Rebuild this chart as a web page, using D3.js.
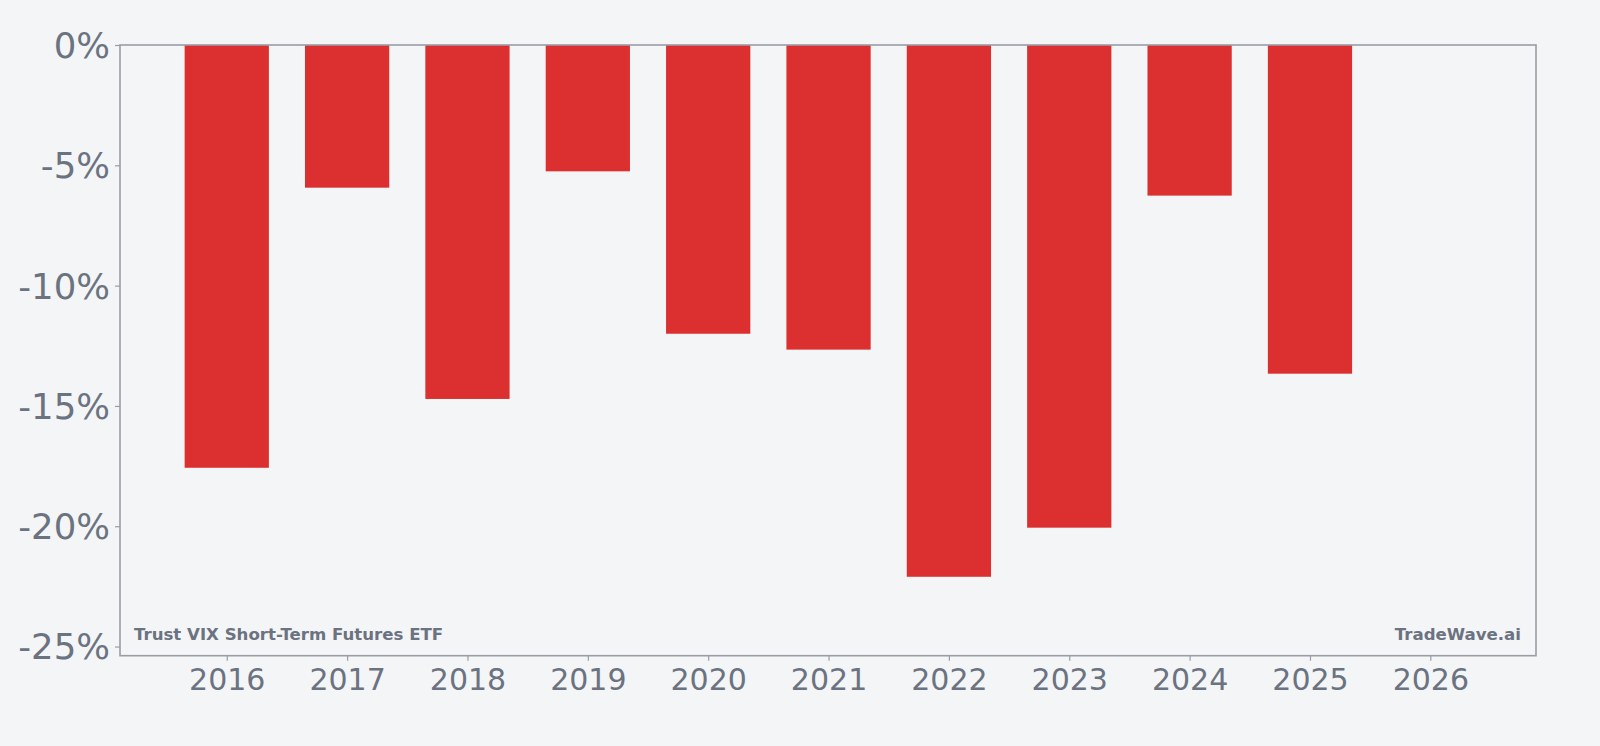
<!DOCTYPE html>
<html>
<head>
<meta charset="utf-8">
<script src="https://cdn.jsdelivr.net/npm/d3@7"></script>
<style>
  html, body { margin: 0; padding: 0; background: #f4f5f7; }
  svg { display: block; }
</style>
</head>
<body>
<script>
var years = [2016, 2017, 2018, 2019, 2020, 2021, 2022, 2023, 2024, 2025];
var returns = [-17.57, -5.93, -14.71, -5.25, -12.0, -12.66, -22.1, -20.06, -6.26, -13.66];
var xTickYears = [2016, 2017, 2018, 2019, 2020, 2021, 2022, 2023, 2024, 2025, 2026];
var yTickValues = [0, -5, -10, -15, -20, -25];
var titleLeft = "Trust VIX Short-Term Futures ETF";
var titleRight = "TradeWave.ai";

var svgWidth = 1600,
    svgHeight = 746;
var margin = { top: 45, right: 64, bottom: 90, left: 120 };
var width = svgWidth - margin.left - margin.right,
    height = 655.7 - margin.top;

var textColor = "#6b7280",
    frameColor = "#9a9da6",
    barColor = "#dc3030";

var svg = d3.select("body").append("svg")
    .attr("width", svgWidth)
    .attr("height", svgHeight);

var g = svg.append("g")
    .attr("transform", "translate(" + margin.left + "," + margin.top + ")");

// linear year scale with half-step padding like the original
var x = d3.scaleLinear()
    .domain([2015.113, 2026.878])
    .range([0, width]);
var y = d3.scaleLinear()
    .domain([-25.38, 0])
    .range([height, 0]);

var barW = x(2016.35) - x(2015.65);

// bars hang down from zero
g.selectAll(".bar")
    .data(years)
    .enter().append("rect")
    .attr("class", "bar")
    .attr("x", (d) => x(d) - barW / 2)
    .attr("y", y(0))
    .attr("width", barW)
    .attr("height", (d, i) => y(returns[i]) - y(0))
    .attr("fill", barColor);

// y axis
var yAxis = g.append("g")
    .call(d3.axisLeft(y)
        .tickValues(yTickValues)
        .tickSize(5)
        .tickPadding(5)
        .tickFormat((d) => d + "%"));
yAxis.select(".domain").remove();
yAxis.selectAll("line").attr("stroke", frameColor).attr("stroke-width", 1.2);
yAxis.selectAll("text")
    .attr("fill", textColor)
    .attr("dy", "0.35em")
    .style("font-family", "DejaVu Sans")
    .style("font-size", "35.5px");

// x axis
var xAxis = g.append("g")
    .attr("transform", "translate(0," + height + ")")
    .call(d3.axisBottom(x)
        .tickValues(xTickYears)
        .tickSize(5)
        .tickPadding(8)
        .tickFormat(d3.format("d")));
xAxis.select(".domain").remove();
xAxis.selectAll("line").attr("stroke", frameColor).attr("stroke-width", 1.2);
xAxis.selectAll("text")
    .attr("fill", textColor)
    .style("font-family", "DejaVu Sans")
    .style("font-size", "30px");

// frame around plot area
g.append("rect")
    .attr("x", 0)
    .attr("y", 0)
    .attr("width", width)
    .attr("height", height)
    .attr("fill", "none")
    .attr("stroke", frameColor)
    .attr("stroke-width", 1.6);

// labels inside the plot
g.append("text")
    .attr("x", 14)
    .attr("y", height - 15.5)
    .attr("fill", textColor)
    .style("font-family", "DejaVu Sans")
    .style("font-weight", "bold")
    .style("font-size", "16.6px")
    .text(titleLeft);
g.append("text")
    .attr("x", width - 15)
    .attr("y", height - 15.5)
    .attr("text-anchor", "end")
    .attr("fill", textColor)
    .style("font-family", "DejaVu Sans")
    .style("font-weight", "bold")
    .style("font-size", "16.6px")
    .text(titleRight);
</script>
</body>
</html>
